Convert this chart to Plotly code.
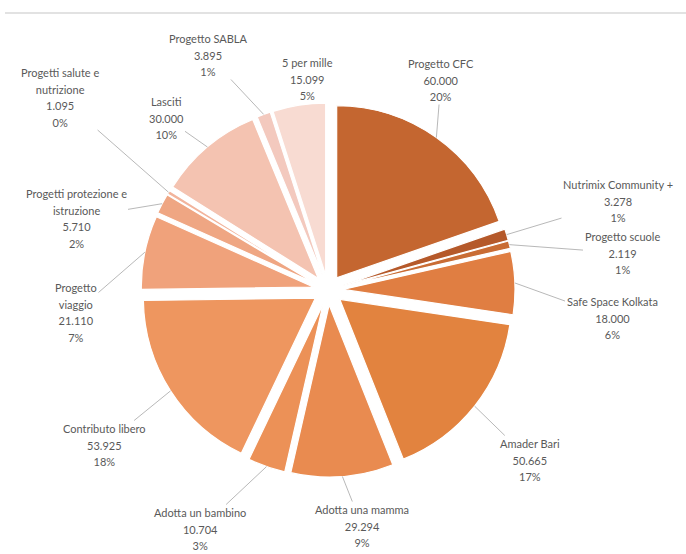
import math
import plotly.graph_objects as go

# ---- data ----
categories = [
    "Progetto CFC", "Nutrimix Community +", "Progetto scuole", "Safe Space Kolkata",
    "Amader Bari", "Adotta una mamma", "Adotta un bambino", "Contributo libero",
    "Progetto<br>viaggio", "Progetti protezione e<br>istruzione",
    "Progetti salute e<br>nutrizione", "Lasciti", "Progetto SABLA", "5 per mille",
]
values = [60000, 3278, 2119, 18000, 50665, 29294, 10704, 53925,
          21110, 5710, 1095, 30000, 3895, 15099]
pct_labels = ["20%", "1%", "1%", "6%", "17%", "9%", "3%", "18%",
              "7%", "2%", "0%", "10%", "1%", "5%"]

colors = ["#c46630", "#b5592a", "#c96c34", "#e07e42", "#e2833f", "#e98b50",
          "#ec9157", "#ee965f", "#f0a27b", "#efa683", "#f2b49c", "#f4c3b1",
          "#f3c9be", "#f8dbd2"]

# label block centres (pixels) and whether a leader line is drawn
label_pos = [(441, 80), (618, 201), (622, 253), (612, 318), (530, 460),
             (362, 526), (200, 529), (104, 445), (76, 312), (76, 218),
             (60, 97), (166, 118), (208, 55), (307, 79)]
leader = [True] * 13 + [False]

W, H = 686, 554
cx, cy, half = 328, 290, 187
pull = 0.087

fig = go.Figure()
fig.add_trace(go.Pie(
    labels=categories, values=values, sort=False, direction="clockwise",
    rotation=0, pull=[pull] * len(values), textinfo="none", hoverinfo="label+value",
    marker=dict(colors=colors, line=dict(color="white", width=1.2)),
    domain=dict(x=[(cx - half) / W, (cx + half) / W],
                y=[1 - (cy + half) / H, 1 - (cy - half) / H]),
    showlegend=False,
))
# invisible cartesian layer in pixel units for labels
fig.add_trace(go.Scatter(x=[], y=[], showlegend=False, hoverinfo="skip"))

r = half / (1 + pull)
total = sum(values)
cum = 0
annotations = []
lab_font = dict(family="Lato, sans-serif", size=12.8, color="#595959")
for cat, v, pct, (lx, ly), ld in zip(categories, values, pct_labels, label_pos, leader):
    mid = (cum + v / 2) / total * 2 * math.pi
    cum += v
    px = cx + (r * (1 + pull)) * math.sin(mid)
    py = cy - (r * (1 + pull)) * math.cos(mid)
    vtxt = f"{v:,}".replace(",", ".")
    lines = cat.split("<br>") + [vtxt, pct]
    text = "<br>".join(f"<span style='font-size:11px'>{t}</span>" for t in lines)
    if ld:
        annotations.append(dict(
            x=px, y=py, xref="x", yref="y", ax=lx, ay=ly, axref="x", ayref="y",
            text=text, showarrow=True, arrowhead=0, arrowwidth=0.8,
            arrowcolor="#a6a6a6", standoff=0, startstandoff=0,
            font=lab_font, align="center"))
    else:
        annotations.append(dict(
            x=lx, y=ly, xref="x", yref="y", text=text, showarrow=False,
            font=lab_font, align="center"))

fig.update_layout(
    width=W, height=H, margin=dict(l=0, r=0, t=0, b=0),
    paper_bgcolor="white", plot_bgcolor="rgba(0,0,0,0)",
    xaxis=dict(range=[0, W], visible=False, fixedrange=True),
    yaxis=dict(range=[H, 0], visible=False, fixedrange=True),
    annotations=annotations,
    shapes=[dict(type="line", xref="x", yref="y", x0=5, x1=W, y0=13, y1=13,
                 line=dict(color="#d9d9d9", width=1.5))],
)

fig.write_html("out.html")
